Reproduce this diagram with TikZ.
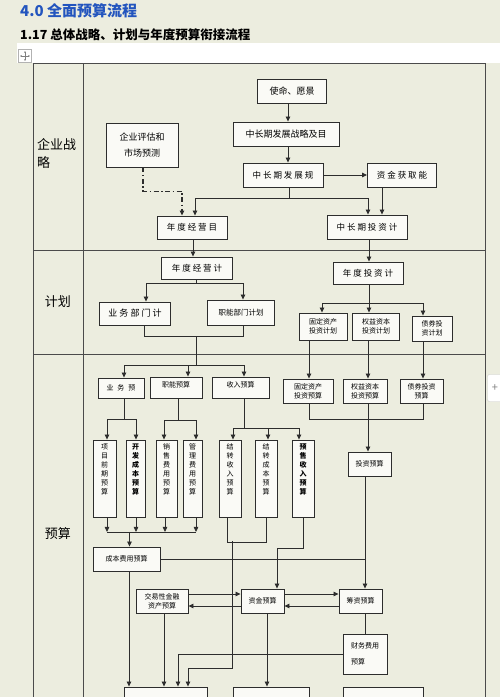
\documentclass[tikz,border=0pt]{standalone}
\usepackage{fontspec}
\setmainfont{Noto Sans CJK SC}
\usetikzlibrary{arrows.meta}
\definecolor{bg}{RGB}{236,237,223}
\definecolor{boxfill}{RGB}{250,250,246}
\definecolor{lncol}{RGB}{45,45,45}
\definecolor{tblcol}{RGB}{75,75,75}
\definecolor{titleblue}{RGB}{35,85,190}
\begin{document}
\begin{tikzpicture}[x=1pt,y=-1pt,
  box/.style={draw=lncol, fill=boxfill, line width=0.9pt, inner sep=1pt, align=center, font=\fontsize{7}{9}\selectfont},
  bigbox/.style={box, font=\fontsize{9}{12}\selectfont},
  midbox/.style={box, font=\fontsize{8.5}{11}\selectfont},
  vbox/.style={box, minimum height=77pt, text depth=19pt, font=\fontsize{7}{9}\selectfont},
  arr/.style={draw=lncol, line width=0.8pt, -{Triangle[length=5pt,width=4.5pt]}},
  ln/.style={draw=lncol, line width=0.8pt},
  dashdot/.style={draw=lncol, line width=1.3pt, dash pattern=on 5pt off 2.5pt on 1.5pt off 2.5pt, -{Triangle[length=5pt,width=4.5pt]}},
  tbl/.style={draw=tblcol, line width=1pt},
  lab/.style={inner sep=0pt, font=\fontsize{13}{18}\selectfont, align=left}
]
\useasboundingbox (0,0) rectangle (500,697);
\clip (0,0) rectangle (500,697);
\fill[bg] (0,0) rectangle (500,697);
\fill[white] (17,43) rectangle (500,63);

% titles
\node[anchor=west, inner sep=0pt, text=titleblue, font=\fontsize{15}{15}\selectfont\bfseries] (t1) at (20,11) {4.0\ 全面预算流程};
\node[anchor=west, inner sep=0pt, font=\fontsize{12.5}{13}\selectfont\bfseries] (t2) at (20,35) {1.17 总体战略、计划与年度预算衔接流程};

% icons
\node[draw=gray!60, fill=white, minimum width=13pt, minimum height=13pt, inner sep=0pt] (mv) at (25,56) {};
\draw[gray, line width=0.5pt, -{Latex[length=1.6pt,width=2pt]}] (mv.center) -- ++(0,-5);
\draw[gray, line width=0.5pt, -{Latex[length=1.6pt,width=2pt]}] (mv.center) -- ++(0,5);
\draw[gray, line width=0.5pt, -{Latex[length=1.6pt,width=2pt]}] (mv.center) -- ++(-5,0);
\draw[gray, line width=0.5pt, -{Latex[length=1.6pt,width=2pt]}] (mv.center) -- ++(5,0);
\node[draw=gray!40, fill=white, rounded corners=2pt, minimum width=15pt, minimum height=27pt, inner sep=0pt, text=gray, font=\fontsize{11}{11}\selectfont] (plus) at (495,388) {+};

% table
\draw[tbl] (33,63) rectangle (485,720);
\draw[tbl] (83,63) -- (83,720);
\draw[tbl] (33,250) -- (485,250);
\draw[tbl] (33,354) -- (485,354);

\node[lab, anchor=north west] (lab1) at (37,138) {企业战\\略};
\node[lab] (lab2) at (58,302) {计划};
\node[lab] (lab3) at (58,534) {预算};

% strategy nodes
\node[bigbox, minimum width=69pt, minimum height=24pt] (mission) at (292,91) {使命、愿景};
\node[bigbox, minimum width=106pt, minimum height=24pt] (zcl) at (286,134) {中长期发展战略及目};
\node[midbox, minimum width=80pt, minimum height=24pt] (gh) at (283,175) {中 长 期 发 展 规};
\node[midbox, minimum width=69pt, minimum height=24pt] (zj) at (402,175) {资 金 获 取 能};
\node[midbox, minimum width=80pt, minimum height=24pt] (tz) at (367,227) {中 长 期 投 资 计};
\node[bigbox, minimum width=72pt, minimum height=44pt, font=\fontsize{9}{16}\selectfont] (pg) at (142,145) {企业评估和\\市场预测};
\node[midbox, minimum width=70pt, minimum height=23pt] (jy) at (192,227.5) {年 度 经 营 目};

% plan nodes
\node[midbox, minimum width=71pt, minimum height=22pt] (jyj) at (197,268) {年 度 经 营 计};
\node[midbox, minimum width=71pt, minimum height=23pt, font=\fontsize{9}{11}\selectfont] (yw) at (135,313.5) {业 务 部 门 计};
\node[box, minimum width=67pt, minimum height=25pt, font=\fontsize{7.5}{9}\selectfont] (zn) at (241,312.5) {职能部门计划};
\node[midbox, minimum width=70pt, minimum height=22pt] (tzj) at (368,273) {年 度 投 资 计};
\node[box, minimum width=48pt, minimum height=27pt] (gd) at (323,326.5) {固定资产\\投资计划};
\node[box, minimum width=47pt, minimum height=27pt] (qy) at (376,326.5) {权益资本\\投资计划};
\node[box, minimum width=40pt, minimum height=25pt] (zq) at (432,328.5) {债券投\\资计划};

% budget nodes
\node[box, minimum width=46pt, minimum height=20pt] (ywy) at (121,388) {业\hspace{4pt}务\hspace{4pt}预};
\node[box, minimum width=52pt, minimum height=21pt, text depth=5pt] (zny) at (176,387.5) {职能预算};
\node[box, minimum width=57pt, minimum height=21pt, text depth=5pt] (sry) at (240.5,387.5) {收入预算};
\node[box, minimum width=50pt, minimum height=24pt] (gdy) at (308,391) {固定资产\\投资预算};
\node[box, minimum width=44pt, minimum height=24pt] (qyy) at (365,391) {权益资本\\投资预算};
\node[box, minimum width=43pt, minimum height=24pt] (zqy) at (421.5,391) {债券投资\\预算};

\node[vbox, minimum width=23pt] (v1) at (104.5,478.5) {项\\目\\前\\期\\预\\算};
\node[vbox, minimum width=19pt, font=\fontsize{7}{9}\selectfont\bfseries] (v2) at (135.5,478.5) {开\\发\\成\\本\\预\\算};
\node[vbox, minimum width=21pt] (v3) at (166.5,478.5) {销\\售\\费\\用\\预\\算};
\node[vbox, minimum width=19pt] (v4) at (192.5,478.5) {管\\理\\费\\用\\预\\算};
\node[vbox, minimum width=22pt] (v5) at (230,478.5) {结\\转\\收\\入\\预\\算};
\node[vbox, minimum width=22pt] (v6) at (266,478.5) {结\\转\\成\\本\\预\\算};
\node[vbox, minimum width=22pt, font=\fontsize{7}{9}\selectfont\bfseries] (v7) at (303,478.5) {预\\售\\收\\入\\预\\算};

\node[box, minimum width=43pt, minimum height=24pt] (tzy) at (369.5,464) {投资预算};
\node[box, minimum width=67pt, minimum height=24pt] (cb) at (126.5,559) {成本费用预算};
\node[box, minimum width=52pt, minimum height=24pt] (jr) at (162,601) {交易性金融\\资产预算};
\node[box, minimum width=43pt, minimum height=24pt] (zjy) at (262.5,601) {资金预算};
\node[box, minimum width=43pt, minimum height=24pt] (cz) at (360.5,601) {筹资预算};
\node[box, minimum width=44pt, minimum height=40pt, align=left, font=\fontsize{7}{16}\selectfont] (cw) at (365,654) {财务费用\\预算};
\node[box, minimum width=83pt, minimum height=30pt] (bA) at (165.5,702) {};
\node[box, minimum width=76pt, minimum height=30pt] (bB) at (271,702) {};
\node[box, minimum width=80pt, minimum height=30pt] (bC) at (383,702) {};

% strategy connectors
\draw[arr] ([xshift=-4pt]mission.south) -- ([xshift=2pt]zcl.north);
\draw[arr] ([xshift=2pt]zcl.south) -- ([xshift=5pt]gh.north);
\draw[arr] (gh.east) -- (zj.west);
\draw[ln] ([xshift=6pt]gh.south) -- ++(0,11) coordinate (s1);
\draw[arr] (s1) -| ([xshift=3pt]jy.north);
\draw[arr] (s1) -| ([xshift=1pt]tz.north);
\draw[arr] ([xshift=-20pt]zj.south) -- ([xshift=15pt]tz.north);
\draw[dashdot] ([xshift=1pt]pg.south) -- ++(0,24) -| ([xshift=-10pt]jy.north);
\draw[arr] ([xshift=1pt]jy.south) -- ([xshift=-4pt]jyj.north);
\draw[arr] ([xshift=2pt]tz.south) -- ([xshift=1pt]tzj.north);

% plan connectors
\draw[ln] ([xshift=-1pt]jyj.south) -- ++(0,4) coordinate (s2);
\draw[arr] (s2) -| ([xshift=11pt]yw.north);
\draw[arr] (s2) -| ([xshift=2pt]zn.north);
\draw[ln] ([xshift=9pt]yw.south) -- ++(0,11) -| ([xshift=2pt]zn.south);
\coordinate (m2) at (196,336);
\draw[ln] (m2) -- ++(0,29) coordinate (s3);
\draw[arr] (s3) -| ([xshift=3pt]ywy.north);
\draw[arr] (s3) -| ([xshift=12pt]zny.north);
\draw[arr] (s3) -| ([xshift=3.5pt]sry.north);
\draw[ln] ([xshift=1pt]tzj.south) -- ++(0,19) coordinate (s4);
\draw[arr] (s4) -| ([xshift=-1pt]gd.north);
\draw[arr] (s4) -- ([xshift=-7pt]qy.north);
\draw[arr] (s4) -| ([xshift=-9pt]zq.north);
\draw[arr] ([xshift=-14pt]gd.south) -- ([xshift=1pt]gdy.north);
\draw[arr] ([xshift=-8pt]qy.south) -- ([xshift=3pt]qyy.north);
\draw[arr] ([xshift=-9pt]zq.south) -- ([xshift=1.5pt]zqy.north);

% budget connectors
\draw[ln] ([xshift=3pt]ywy.south) -- ++(0,21) coordinate (s5);
\draw[arr] (s5) -| ([xshift=2.5pt]v1.north);
\draw[arr] (s5) -| ([xshift=0.5pt]v2.north);
\draw[ln] ([xshift=2pt]zny.south) -- ++(0,21.5) coordinate (s6);
\draw[arr] (s6) -| ([xshift=-2.5pt]v3.north);
\draw[arr] (s6) -| ([xshift=3.5pt]v4.north);
\draw[ln] ([xshift=3.5pt]sry.south) -- ++(0,29.5) coordinate (s7);
\draw[arr] (s7) -| ([xshift=3pt]v5.north);
\draw[arr] (s7) -| ([xshift=2pt]v6.north);
\draw[arr] (s7) -| ([xshift=-4pt]v7.north);

\draw[arr] ([xshift=2.5pt]v1.south) -- ++(0,14.5) coordinate (b1);
\draw[arr] ([xshift=0.5pt]v2.south) -- ++(0,14.5);
\draw[arr] ([xshift=-1.5pt]v3.south) -- ++(0,14.5);
\draw[arr] ([xshift=3.5pt]v4.south) -- ++(0,14.5) coordinate (b4);
\draw[ln] (b1) -- (b4);
\path ([xshift=3pt]cb.north) coordinate (cbn);
\draw[arr] (cbn |- b1) -- (cbn);

\draw[ln] ([xshift=-3pt]v5.south) -- ++(0,24.5) -| (v6.south);
\coordinate (m5) at (232,541);
\draw[arr] (m5) -- ++(0,127) -| ([xshift=22.5pt]bA.north);
\draw[arr] (v7.south) -- ++(0,30.5) -| ([xshift=14.5pt]zjy.north);

\draw[ln] ([xshift=1pt]gdy.south) -- ++(0,16) -| ([xshift=1.5pt]zqy.south);
\draw[arr] ([xshift=3pt]qyy.south) -- ([xshift=-1.5pt]tzy.north);
\draw[arr] ([xshift=-4.5pt]tzy.south) -- ([xshift=4.5pt]cz.north);
\path ([xshift=4.5pt]cz.north) coordinate (czn);
\draw[ln] (cb.east) -- (cb.east -| czn);

\draw[arr] ([yshift=7pt]jr.east) -- ([yshift=7pt]zjy.west);
\draw[arr] ([yshift=-5pt]zjy.west) -- ([yshift=-5pt]jr.east);
\draw[arr] ([yshift=7pt]zjy.east) -- ([yshift=7pt]cz.west);
\draw[arr] ([yshift=-5pt]cz.west) -- ([yshift=-5pt]zjy.east);
\draw[ln] ([xshift=4.5pt]cz.south) -- (cw.north);
\draw[arr] (cw.west) -| ([xshift=12.5pt]bA.north);
\draw[arr] ([xshift=2pt]jr.south) -- ([xshift=-1.5pt]bA.north);
\draw[arr] ([xshift=2.5pt]cb.south) -- ([xshift=-36.5pt]bA.north);
\draw[arr] ([xshift=4.5pt]zjy.south) -- ([xshift=-4pt]bB.north);
\end{tikzpicture}
\end{document}
